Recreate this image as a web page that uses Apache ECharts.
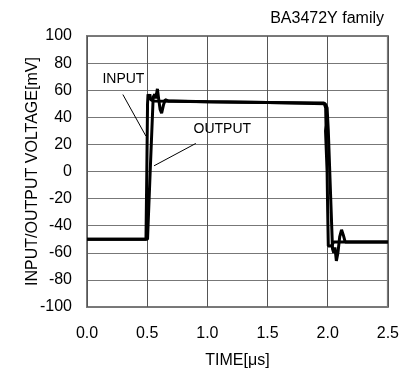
<!DOCTYPE html>
<html>
<head>
<meta charset="utf-8">
<script src="https://cdn.jsdelivr.net/npm/echarts@6/dist/echarts.min.js"></script>
<style>
  html, body { margin: 0; padding: 0; background: #fff; }
  #chart { width: 402px; height: 374px; }
</style>
</head>
<body>
<div id="chart"></div>
<script>
// Step response traces: [time (µs), voltage (mV)]
const inputTrace = [
  [0, -50], [0.49, -50], [0.497, 0], [0.503, 50], [0.507, 57], [0.512, 58],
  [0.517, 55], [0.522, 57], [0.53, 53], [0.55, 52], [1.0, 51.5], [1.5, 51],
  [1.97, 50.5], [1.983, 47], [1.986, 34], [1.982, 30], [1.995, 0], [2.0, -30],
  [2.005, -55], [2.03, -55], [2.05, -52], [2.5, -52]
];
const outputTrace = [
  [0, -50], [0.503, -50], [0.525, 0], [0.55, 55], [0.563, 57], [0.572, 54],
  [0.585, 61], [0.595, 54], [0.607, 46], [0.62, 43], [0.635, 49], [0.65, 53],
  [0.665, 54], [0.68, 52], [0.72, 52], [1.0, 51.5], [1.5, 51], [1.98, 50],
  [1.995, 47], [2.005, 30], [2.025, -20], [2.04, -57], [2.05, -60], [2.06, -56],
  [2.072, -66], [2.085, -60], [2.1, -48], [2.115, -43], [2.13, -47],
  [2.145, -52], [2.5, -52]
];

// Axis settings
const xTicks = { min: 0, max: 2.5, step: 0.5 };
const yTicks = { min: -100, max: 100, step: 20 };

// Callout lines: [start, end] in data coordinates
const inputCallout = [[0.298, 56.8], [0.489, 26.2]];
const outputCallout = [[0.904, 20.7], [0.557, 4.2]];
const inputLabelPos = [0.128, 68.5];
const outputLabelPos = [0.885, 31.5];

const FONT = '"Liberation Sans", Arial, sans-serif';

const chart = echarts.init(document.getElementById('chart'), null, { renderer: 'canvas' });

chart.setOption({
  animation: false,
  backgroundColor: '#fff',
  title: {
    text: 'BA3472Y family',
    right: 13,
    top: 6,
    textStyle: { fontFamily: FONT, fontSize: 16, fontWeight: 'normal', color: '#000' }
  },
  grid: {
    left: 87, right: 10, top: 36, bottom: 65,
    show: true, borderColor: '#7a7a7a', borderWidth: 2, backgroundColor: 'transparent'
  },
  xAxis: {
    type: 'value',
    min: xTicks.min, max: xTicks.max, interval: xTicks.step,
    name: 'TIME[μs]',
    nameLocation: 'middle',
    nameGap: 46,
    nameMoveOverlap: false,
    nameTextStyle: { fontFamily: FONT, fontSize: 16, color: '#000' },
    axisLine: { show: false },
    axisTick: { show: false },
    axisLabel: {
      margin: 19, fontFamily: FONT, fontSize: 16, color: '#000',
      formatter: v => v.toFixed(1)
    },
    splitLine: { show: true, lineStyle: { color: '#555', width: 1 } }
  },
  yAxis: {
    type: 'value',
    min: yTicks.min, max: yTicks.max, interval: yTicks.step,
    name: 'INPUT/OUTPUT VOLTAGE[mV]',
    nameLocation: 'middle',
    nameGap: 46,
    nameMoveOverlap: false,
    nameTextStyle: { fontFamily: FONT, fontSize: 16, color: '#000' },
    axisLine: { show: false },
    axisTick: { show: false },
    axisLabel: { margin: 15, fontFamily: FONT, fontSize: 16, color: '#000' },
    splitLine: { show: true, lineStyle: { color: '#777', width: 1 } }
  },
  series: [
    {
      name: 'INPUT',
      type: 'line',
      data: inputTrace,
      showSymbol: false,
      lineStyle: { color: '#000', width: 3 },
      z: 3,
      markLine: {
        silent: true, symbol: 'none',
        lineStyle: { color: '#000', width: 1, type: 'solid' },
        label: { show: false },
        data: [[{ coord: inputCallout[0] }, { coord: inputCallout[1] }]]
      },
      markPoint: {
        silent: true, symbol: 'circle', symbolSize: 0,
        label: {
          show: true, position: 'right', distance: 0,
          fontFamily: FONT, fontSize: 14, color: '#000',
          formatter: 'INPUT'
        },
        data: [{ coord: inputLabelPos }]
      }
    },
    {
      name: 'OUTPUT',
      type: 'line',
      data: outputTrace,
      showSymbol: false,
      lineStyle: { color: '#000', width: 3 },
      z: 3,
      markLine: {
        silent: true, symbol: 'none',
        lineStyle: { color: '#000', width: 1, type: 'solid' },
        label: { show: false },
        data: [[{ coord: outputCallout[0] }, { coord: outputCallout[1] }]]
      },
      markPoint: {
        silent: true, symbol: 'circle', symbolSize: 0,
        label: {
          show: true, position: 'right', distance: 0,
          fontFamily: FONT, fontSize: 14, color: '#000',
          formatter: 'OUTPUT'
        },
        data: [{ coord: outputLabelPos }]
      }
    }
  ]
});
</script>
</body>
</html>
